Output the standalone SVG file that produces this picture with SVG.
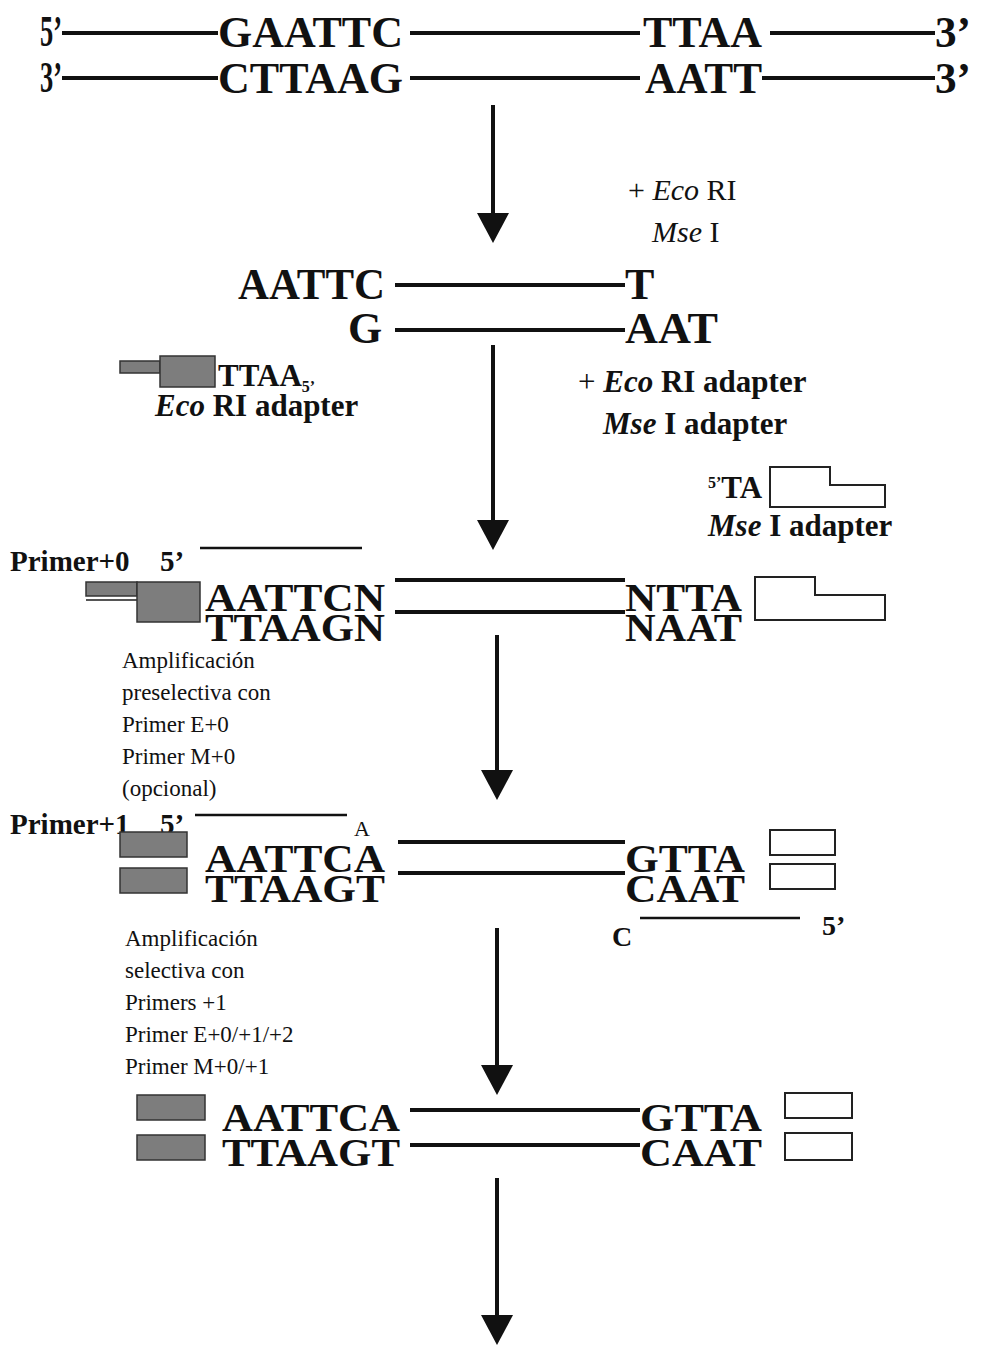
<svg xmlns="http://www.w3.org/2000/svg" width="983" height="1350" viewBox="0 0 983 1350">
<defs>
<style>
text{font-family:"Liberation Serif","Times New Roman",serif;fill:#111}
.seq{font-weight:bold;font-size:44px}
.big{font-weight:bold;font-size:39px}
.lbl{font-weight:bold;font-size:31px}
.note{font-size:23px}
.thick{stroke:#111;stroke-width:4;fill:none}
.thin{stroke:#111;stroke-width:2.5;fill:none}
.gray{fill:#7d7d7d;stroke:#333;stroke-width:1.5}
.white{fill:#fff;stroke:#222;stroke-width:2}
.head{fill:#111}
.shaft{stroke:#111;stroke-width:4}
</style>
</defs>
<rect width="983" height="1350" fill="#fff"/>

<g id="connectors">
<line class="shaft" x1="493" y1="105" x2="493" y2="213"/>
<path class="head" d="M477,213 L509,213 L493,243 Z"/>
<line class="shaft" x1="493" y1="345" x2="493" y2="520"/>
<path class="head" d="M477,520 L509,520 L493,550 Z"/>
<line class="shaft" x1="497" y1="635" x2="497" y2="770"/>
<path class="head" d="M481,770 L513,770 L497,800 Z"/>
<line class="shaft" x1="497" y1="928" x2="497" y2="1065"/>
<path class="head" d="M481,1065 L513,1065 L497,1095 Z"/>
<line class="shaft" x1="497" y1="1178" x2="497" y2="1315"/>
<path class="head" d="M481,1315 L513,1315 L497,1345 Z"/>
</g>

<g id="genomic-dna">
<text class="seq" x="40" y="46" textLength="22" lengthAdjust="spacingAndGlyphs">5’</text>
<line class="thick" x1="62" y1="33" x2="218" y2="33"/>
<text class="seq" x="218" y="47" textLength="185" lengthAdjust="spacingAndGlyphs">GAATTC</text>
<line class="thick" x1="410" y1="33" x2="640" y2="33"/>
<text class="seq" x="643" y="47" textLength="119" lengthAdjust="spacingAndGlyphs">TTAA</text>
<line class="thick" x1="770" y1="33" x2="935" y2="33"/>
<text class="seq" x="935" y="47" textLength="36" lengthAdjust="spacingAndGlyphs">3’</text>
<text class="seq" x="40" y="92" textLength="22" lengthAdjust="spacingAndGlyphs">3’</text>
<line class="thick" x1="62" y1="78" x2="218" y2="78"/>
<text class="seq" x="218" y="93" textLength="185" lengthAdjust="spacingAndGlyphs">CTTAAG</text>
<line class="thick" x1="410" y1="78" x2="640" y2="78"/>
<text class="seq" x="645" y="93" textLength="117" lengthAdjust="spacingAndGlyphs">AATT</text>
<line class="thick" x1="762" y1="78" x2="935" y2="78"/>
<text class="seq" x="935" y="93" textLength="36" lengthAdjust="spacingAndGlyphs">3’</text>
</g>

<g id="enzymes-label">
<text style="font-size:30px" x="628" y="200">+ <tspan font-style="italic">Eco</tspan> RI</text>
<text style="font-size:30px" x="652" y="242"><tspan font-style="italic">Mse</tspan> I</text>
</g>

<g id="digested-fragment">
<text class="seq" x="238" y="299" textLength="147" lengthAdjust="spacingAndGlyphs">AATTC</text>
<line class="thick" x1="395" y1="285" x2="625" y2="285"/>
<text class="seq" x="625" y="299">T</text>
<text class="seq" x="348" y="343">G</text>
<line class="thick" x1="395" y1="330" x2="625" y2="330"/>
<text class="seq" x="625" y="343" textLength="93" lengthAdjust="spacingAndGlyphs">AAT</text>
</g>

<g id="ecori-adapter">
<rect class="gray" x="120" y="361" width="40" height="12"/>
<rect class="gray" x="160" y="356" width="55" height="31"/>
<text class="lbl" x="218" y="386" style="font-size:31px">TTAA<tspan font-size="16" dy="6">5’</tspan></text>
<text class="lbl" x="155" y="416"><tspan font-style="italic">Eco</tspan> RI adapter</text>
</g>

<g id="adapters-label">
<text class="lbl" x="578" y="392"><tspan font-weight="normal">+</tspan> <tspan font-style="italic">Eco</tspan> RI adapter</text>
<text class="lbl" x="603" y="434"><tspan font-style="italic">Mse</tspan> I adapter</text>
</g>

<g id="msei-adapter">
<polygon class="white" points="770,467 830,467 830,485 885,485 885,507 770,507"/>
<text class="lbl" x="708" y="498"><tspan font-size="16" dy="-10">5’</tspan><tspan dy="10">TA</tspan></text>
<text class="lbl" x="708" y="536"><tspan font-style="italic">Mse</tspan> I adapter</text>
</g>

<g id="ligated-fragment">
<text class="lbl" x="10" y="571" style="font-size:29px">Primer+0</text>
<text class="lbl" x="160" y="571" style="font-size:29px">5’</text>
<line class="thin" x1="200" y1="548" x2="362" y2="548"/>
<rect class="gray" x="86" y="582" width="51" height="14"/>
<line x1="86" y1="600" x2="137" y2="600" stroke="#555" stroke-width="2"/>
<rect class="gray" x="137" y="582" width="63" height="40"/>
<text class="big" x="205" y="611" textLength="180" lengthAdjust="spacingAndGlyphs">AATTCN</text>
<text class="big" x="205" y="641" textLength="180" lengthAdjust="spacingAndGlyphs">TTAAGN</text>
<line class="thick" x1="395" y1="580" x2="625" y2="580"/>
<line class="thick" x1="395" y1="612" x2="625" y2="612"/>
<text class="big" x="625" y="611" textLength="117" lengthAdjust="spacingAndGlyphs">NTTA</text>
<text class="big" x="625" y="641" textLength="117" lengthAdjust="spacingAndGlyphs">NAAT</text>
<polygon class="white" points="755,577 815,577 815,595 885,595 885,620 755,620"/>
</g>

<g id="preselective-label">
<text class="note" x="122" y="668">Amplificación</text>
<text class="note" x="122" y="700">preselectiva con</text>
<text class="note" x="122" y="732">Primer E+0</text>
<text class="note" x="122" y="764">Primer M+0</text>
<text class="note" x="122" y="796">(opcional)</text>
</g>

<g id="preamplified-fragment">
<text class="lbl" x="10" y="834" style="font-size:29px">Primer+1</text>
<text class="lbl" x="160" y="834" style="font-size:29px">5’</text>
<line class="thin" x1="195" y1="815" x2="347" y2="815"/>
<rect class="gray" x="120" y="832" width="67" height="25"/>
<rect class="gray" x="120" y="868" width="67" height="25"/>
<text style="font-size:22px" x="354" y="836">A</text>
<text class="big" x="205" y="872" textLength="180" lengthAdjust="spacingAndGlyphs">AATTCA</text>
<text class="big" x="205" y="902" textLength="180" lengthAdjust="spacingAndGlyphs">TTAAGT</text>
<line class="thick" x1="398" y1="842" x2="625" y2="842"/>
<line class="thick" x1="398" y1="873" x2="625" y2="873"/>
<text class="big" x="625" y="872" textLength="120" lengthAdjust="spacingAndGlyphs">GTTA</text>
<text class="big" x="625" y="902" textLength="120" lengthAdjust="spacingAndGlyphs">CAAT</text>
<rect class="white" x="770" y="830" width="65" height="25"/>
<rect class="white" x="770" y="864" width="65" height="25"/>
<text class="lbl" x="612" y="946" style="font-size:28px">C</text>
<line class="thin" x1="640" y1="918" x2="800" y2="918"/>
<text class="lbl" x="822" y="935" style="font-size:28px">5’</text>
</g>

<g id="selective-label">
<text class="note" x="125" y="946">Amplificación</text>
<text class="note" x="125" y="978">selectiva con</text>
<text class="note" x="125" y="1010">Primers +1</text>
<text class="note" x="125" y="1042">Primer E+0/+1/+2</text>
<text class="note" x="125" y="1074">Primer M+0/+1</text>
</g>

<g id="selected-fragment">
<rect class="gray" x="137" y="1095" width="68" height="25"/>
<rect class="gray" x="137" y="1135" width="68" height="25"/>
<text class="big" x="222" y="1131" textLength="178" lengthAdjust="spacingAndGlyphs">AATTCA</text>
<text class="big" x="222" y="1166" textLength="178" lengthAdjust="spacingAndGlyphs">TTAAGT</text>
<line class="thick" x1="410" y1="1110" x2="640" y2="1110"/>
<line class="thick" x1="410" y1="1145" x2="640" y2="1145"/>
<text class="big" x="640" y="1131" textLength="122" lengthAdjust="spacingAndGlyphs">GTTA</text>
<text class="big" x="640" y="1166" textLength="122" lengthAdjust="spacingAndGlyphs">CAAT</text>
<rect class="white" x="785" y="1093" width="67" height="25"/>
<rect class="white" x="785" y="1133" width="67" height="27"/>
</g>
</svg>
